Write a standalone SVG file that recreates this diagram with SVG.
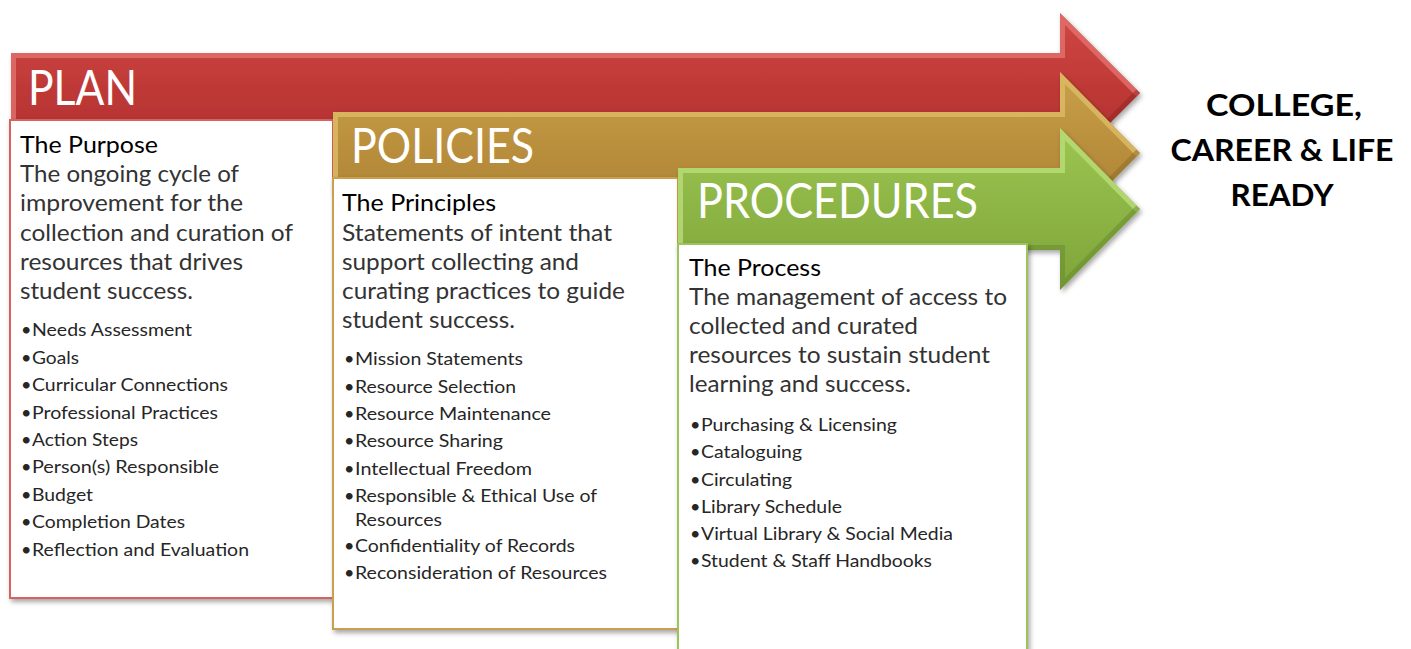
<svg xmlns="http://www.w3.org/2000/svg" width="1411" height="649" viewBox="0 0 1411 649">
<defs>
  <linearGradient id="gRed" x1="0" y1="0" x2="0" y2="1">
    <stop offset="0" stop-color="#CF4845"/>
    <stop offset="0.5" stop-color="#BE3836"/>
    <stop offset="1" stop-color="#A92F2D"/>
  </linearGradient>
  <linearGradient id="gGold" x1="0" y1="0" x2="0" y2="1">
    <stop offset="0" stop-color="#C9A04A"/>
    <stop offset="0.5" stop-color="#B88E3C"/>
    <stop offset="1" stop-color="#A77F33"/>
  </linearGradient>
  <linearGradient id="gGreen" x1="0" y1="0" x2="0" y2="1">
    <stop offset="0" stop-color="#9CC551"/>
    <stop offset="0.5" stop-color="#8DB545"/>
    <stop offset="1" stop-color="#7FA43B"/>
  </linearGradient>
  <clipPath id="cRed"><path d="M11,53 H1060 V13 L1140,93 L1060,173 V133 H11 Z"/></clipPath>
  <clipPath id="cGold"><path d="M333,112 H1060 V72 L1140,153 L1060,234 V194 H333 Z"/></clipPath>
  <clipPath id="cGreen"><path d="M678,168 H1060 V128 L1140,209 L1060,290 V250 H678 Z"/></clipPath>
  <filter id="sh" x="-5%" y="-5%" width="112%" height="115%">
    <feDropShadow dx="2" dy="3" stdDeviation="2.5" flood-color="#000" flood-opacity="0.35"/>
  </filter>
</defs>
<style>
  .hd { font-family: Lato, "Open Sans", "Liberation Sans", sans-serif; font-size: 48px; fill: #FFFFFF; }
  .ttl { font-family: Lato, "Liberation Sans", sans-serif; font-size: 24px; fill: #000000; }
  .body { font-family: Lato, "Liberation Sans", sans-serif; font-size: 23px; fill: #333333; }
  .bl { font-family: Lato, "Liberation Sans", sans-serif; font-size: 18px; fill: #262626; }
  .goal { font-family: Lato, "Liberation Sans", sans-serif; font-size: 31px; font-weight: 700; fill: #000000; }
  .box { fill: #FFFFFF; stroke-width: 2; }
  .hi { fill: none; stroke-width: 10; stroke-linejoin: miter; }
</style>

<g id="plan">
  <g filter="url(#sh)">
    <path d="M11,53 H1060 V13 L1140,93 L1060,173 V133 H11 Z" fill="url(#gRed)"/>
  </g>
  <g clip-path="url(#cRed)">
    <polyline class="hi" points="11,133 11,53 1060,53 1060,13 1140,93" stroke="#E2706C" opacity="0.8"/>
    <polyline class="hi" points="1140,93 1060,173 1060,133 11,133" stroke="#8E2624" opacity="0.5"/>
  </g>
  <text class="hd" x="28" y="105" textLength="109" lengthAdjust="spacingAndGlyphs">PLAN</text>
  <rect class="box" x="10" y="120" width="323" height="478" stroke="#D66461" filter="url(#sh)"/>
  <text class="ttl" x="20" y="153" textLength="138" lengthAdjust="spacingAndGlyphs">The Purpose</text>
  <text class="body" x="20" y="182" textLength="219" lengthAdjust="spacingAndGlyphs">The ongoing cycle of</text>
  <text class="body" x="20" y="211" textLength="223" lengthAdjust="spacingAndGlyphs">improvement for the</text>
  <text class="body" x="20" y="241" textLength="273" lengthAdjust="spacingAndGlyphs">collection and curation of</text>
  <text class="body" x="20" y="270" textLength="223" lengthAdjust="spacingAndGlyphs">resources that drives</text>
  <text class="body" x="20" y="299" textLength="173" lengthAdjust="spacingAndGlyphs">student success.</text>
  <g class="bl">
    <text x="21" y="336">•</text><text x="32" y="336" textLength="160" lengthAdjust="spacingAndGlyphs">Needs Assessment</text>
    <text x="21" y="363.5">•</text><text x="32" y="363.5" textLength="47" lengthAdjust="spacingAndGlyphs">Goals</text>
    <text x="21" y="391">•</text><text x="32" y="391" textLength="196" lengthAdjust="spacingAndGlyphs">Curricular Connections</text>
    <text x="21" y="418.5">•</text><text x="32" y="418.5" textLength="186" lengthAdjust="spacingAndGlyphs">Professional Practices</text>
    <text x="21" y="446">•</text><text x="32" y="446" textLength="106" lengthAdjust="spacingAndGlyphs">Action Steps</text>
    <text x="21" y="473">•</text><text x="32" y="473" textLength="187" lengthAdjust="spacingAndGlyphs">Person(s) Responsible</text>
    <text x="21" y="500.5">•</text><text x="32" y="500.5" textLength="61" lengthAdjust="spacingAndGlyphs">Budget</text>
    <text x="21" y="528">•</text><text x="32" y="528" textLength="153" lengthAdjust="spacingAndGlyphs">Completion Dates</text>
    <text x="21" y="555.5">•</text><text x="32" y="555.5" textLength="217" lengthAdjust="spacingAndGlyphs">Reflection and Evaluation</text>
  </g>
</g>

<g id="policies">
  <g filter="url(#sh)">
    <path d="M333,112 H1060 V72 L1140,153 L1060,234 V194 H333 Z" fill="url(#gGold)"/>
  </g>
  <g clip-path="url(#cGold)">
    <polyline class="hi" points="333,194 333,112 1060,112 1060,72 1140,153" stroke="#DDBB66" opacity="0.8"/>
    <polyline class="hi" points="1140,153 1060,234 1060,194 333,194" stroke="#8C6A28" opacity="0.5"/>
  </g>
  <text class="hd" x="351" y="163" textLength="183" lengthAdjust="spacingAndGlyphs">POLICIES</text>
  <rect class="box" x="333" y="178" width="345" height="451" stroke="#C9A04E" filter="url(#sh)"/>
  <text class="ttl" x="342" y="211" textLength="154" lengthAdjust="spacingAndGlyphs">The Principles</text>
  <text class="body" x="342" y="241" textLength="270" lengthAdjust="spacingAndGlyphs">Statements of intent that</text>
  <text class="body" x="342" y="270" textLength="237" lengthAdjust="spacingAndGlyphs">support collecting and</text>
  <text class="body" x="342" y="299" textLength="283" lengthAdjust="spacingAndGlyphs">curating practices to guide</text>
  <text class="body" x="342" y="328" textLength="173" lengthAdjust="spacingAndGlyphs">student success.</text>
  <g class="bl">
    <text x="344" y="365">•</text><text x="355" y="365" textLength="168" lengthAdjust="spacingAndGlyphs">Mission Statements</text>
    <text x="344" y="392.5">•</text><text x="355" y="392.5" textLength="161" lengthAdjust="spacingAndGlyphs">Resource Selection</text>
    <text x="344" y="420">•</text><text x="355" y="420" textLength="196" lengthAdjust="spacingAndGlyphs">Resource Maintenance</text>
    <text x="344" y="447">•</text><text x="355" y="447" textLength="148" lengthAdjust="spacingAndGlyphs">Resource Sharing</text>
    <text x="344" y="475">•</text><text x="355" y="475" textLength="177" lengthAdjust="spacingAndGlyphs">Intellectual Freedom</text>
    <text x="344" y="502">•</text><text x="355" y="502" textLength="242" lengthAdjust="spacingAndGlyphs">Responsible &amp; Ethical Use of</text>
    <text x="355" y="526" textLength="87" lengthAdjust="spacingAndGlyphs">Resources</text>
    <text x="344" y="552">•</text><text x="355" y="552" textLength="220" lengthAdjust="spacingAndGlyphs">Confidentiality of Records</text>
    <text x="344" y="579">•</text><text x="355" y="579" textLength="252" lengthAdjust="spacingAndGlyphs">Reconsideration of Resources</text>
  </g>
</g>

<g id="procedures">
  <g filter="url(#sh)">
    <path d="M678,168 H1060 V128 L1140,209 L1060,290 V250 H678 Z" fill="url(#gGreen)"/>
  </g>
  <g clip-path="url(#cGreen)">
    <polyline class="hi" points="678,250 678,168 1060,168 1060,128 1140,209" stroke="#B9DD7A" opacity="0.8"/>
    <polyline class="hi" points="1140,209 1060,290 1060,250 678,250" stroke="#65872C" opacity="0.5"/>
  </g>
  <text class="hd" x="697" y="218" textLength="281" lengthAdjust="spacingAndGlyphs">PROCEDURES</text>
  <rect class="box" x="678" y="244" width="349" height="410" stroke="#9DC35D" filter="url(#sh)"/>
  <text class="ttl" x="689" y="276" textLength="132" lengthAdjust="spacingAndGlyphs">The Process</text>
  <text class="body" x="689" y="305" textLength="318" lengthAdjust="spacingAndGlyphs">The management of access to</text>
  <text class="body" x="689" y="334" textLength="229" lengthAdjust="spacingAndGlyphs">collected and curated</text>
  <text class="body" x="689" y="363" textLength="301" lengthAdjust="spacingAndGlyphs">resources to sustain student</text>
  <text class="body" x="689" y="392" textLength="222" lengthAdjust="spacingAndGlyphs">learning and success.</text>
  <g class="bl">
    <text x="690" y="431">•</text><text x="701" y="431" textLength="196" lengthAdjust="spacingAndGlyphs">Purchasing &amp; Licensing</text>
    <text x="690" y="458">•</text><text x="701" y="458" textLength="101" lengthAdjust="spacingAndGlyphs">Cataloguing</text>
    <text x="690" y="485.5">•</text><text x="701" y="485.5" textLength="91" lengthAdjust="spacingAndGlyphs">Circulating</text>
    <text x="690" y="512.5">•</text><text x="701" y="512.5" textLength="141" lengthAdjust="spacingAndGlyphs">Library Schedule</text>
    <text x="690" y="540">•</text><text x="701" y="540" textLength="252" lengthAdjust="spacingAndGlyphs">Virtual Library &amp; Social Media</text>
    <text x="690" y="567">•</text><text x="701" y="567" textLength="231" lengthAdjust="spacingAndGlyphs">Student &amp; Staff Handbooks</text>
  </g>
</g>

<g id="goal">
  <text class="goal" x="1284" y="116" text-anchor="middle" textLength="156" lengthAdjust="spacingAndGlyphs">COLLEGE,</text>
  <text class="goal" x="1282" y="161" text-anchor="middle" textLength="223" lengthAdjust="spacingAndGlyphs">CAREER &amp; LIFE</text>
  <text class="goal" x="1282" y="206" text-anchor="middle" textLength="103" lengthAdjust="spacingAndGlyphs">READY</text>
</g>

<g id="connectors"></g>
</svg>
